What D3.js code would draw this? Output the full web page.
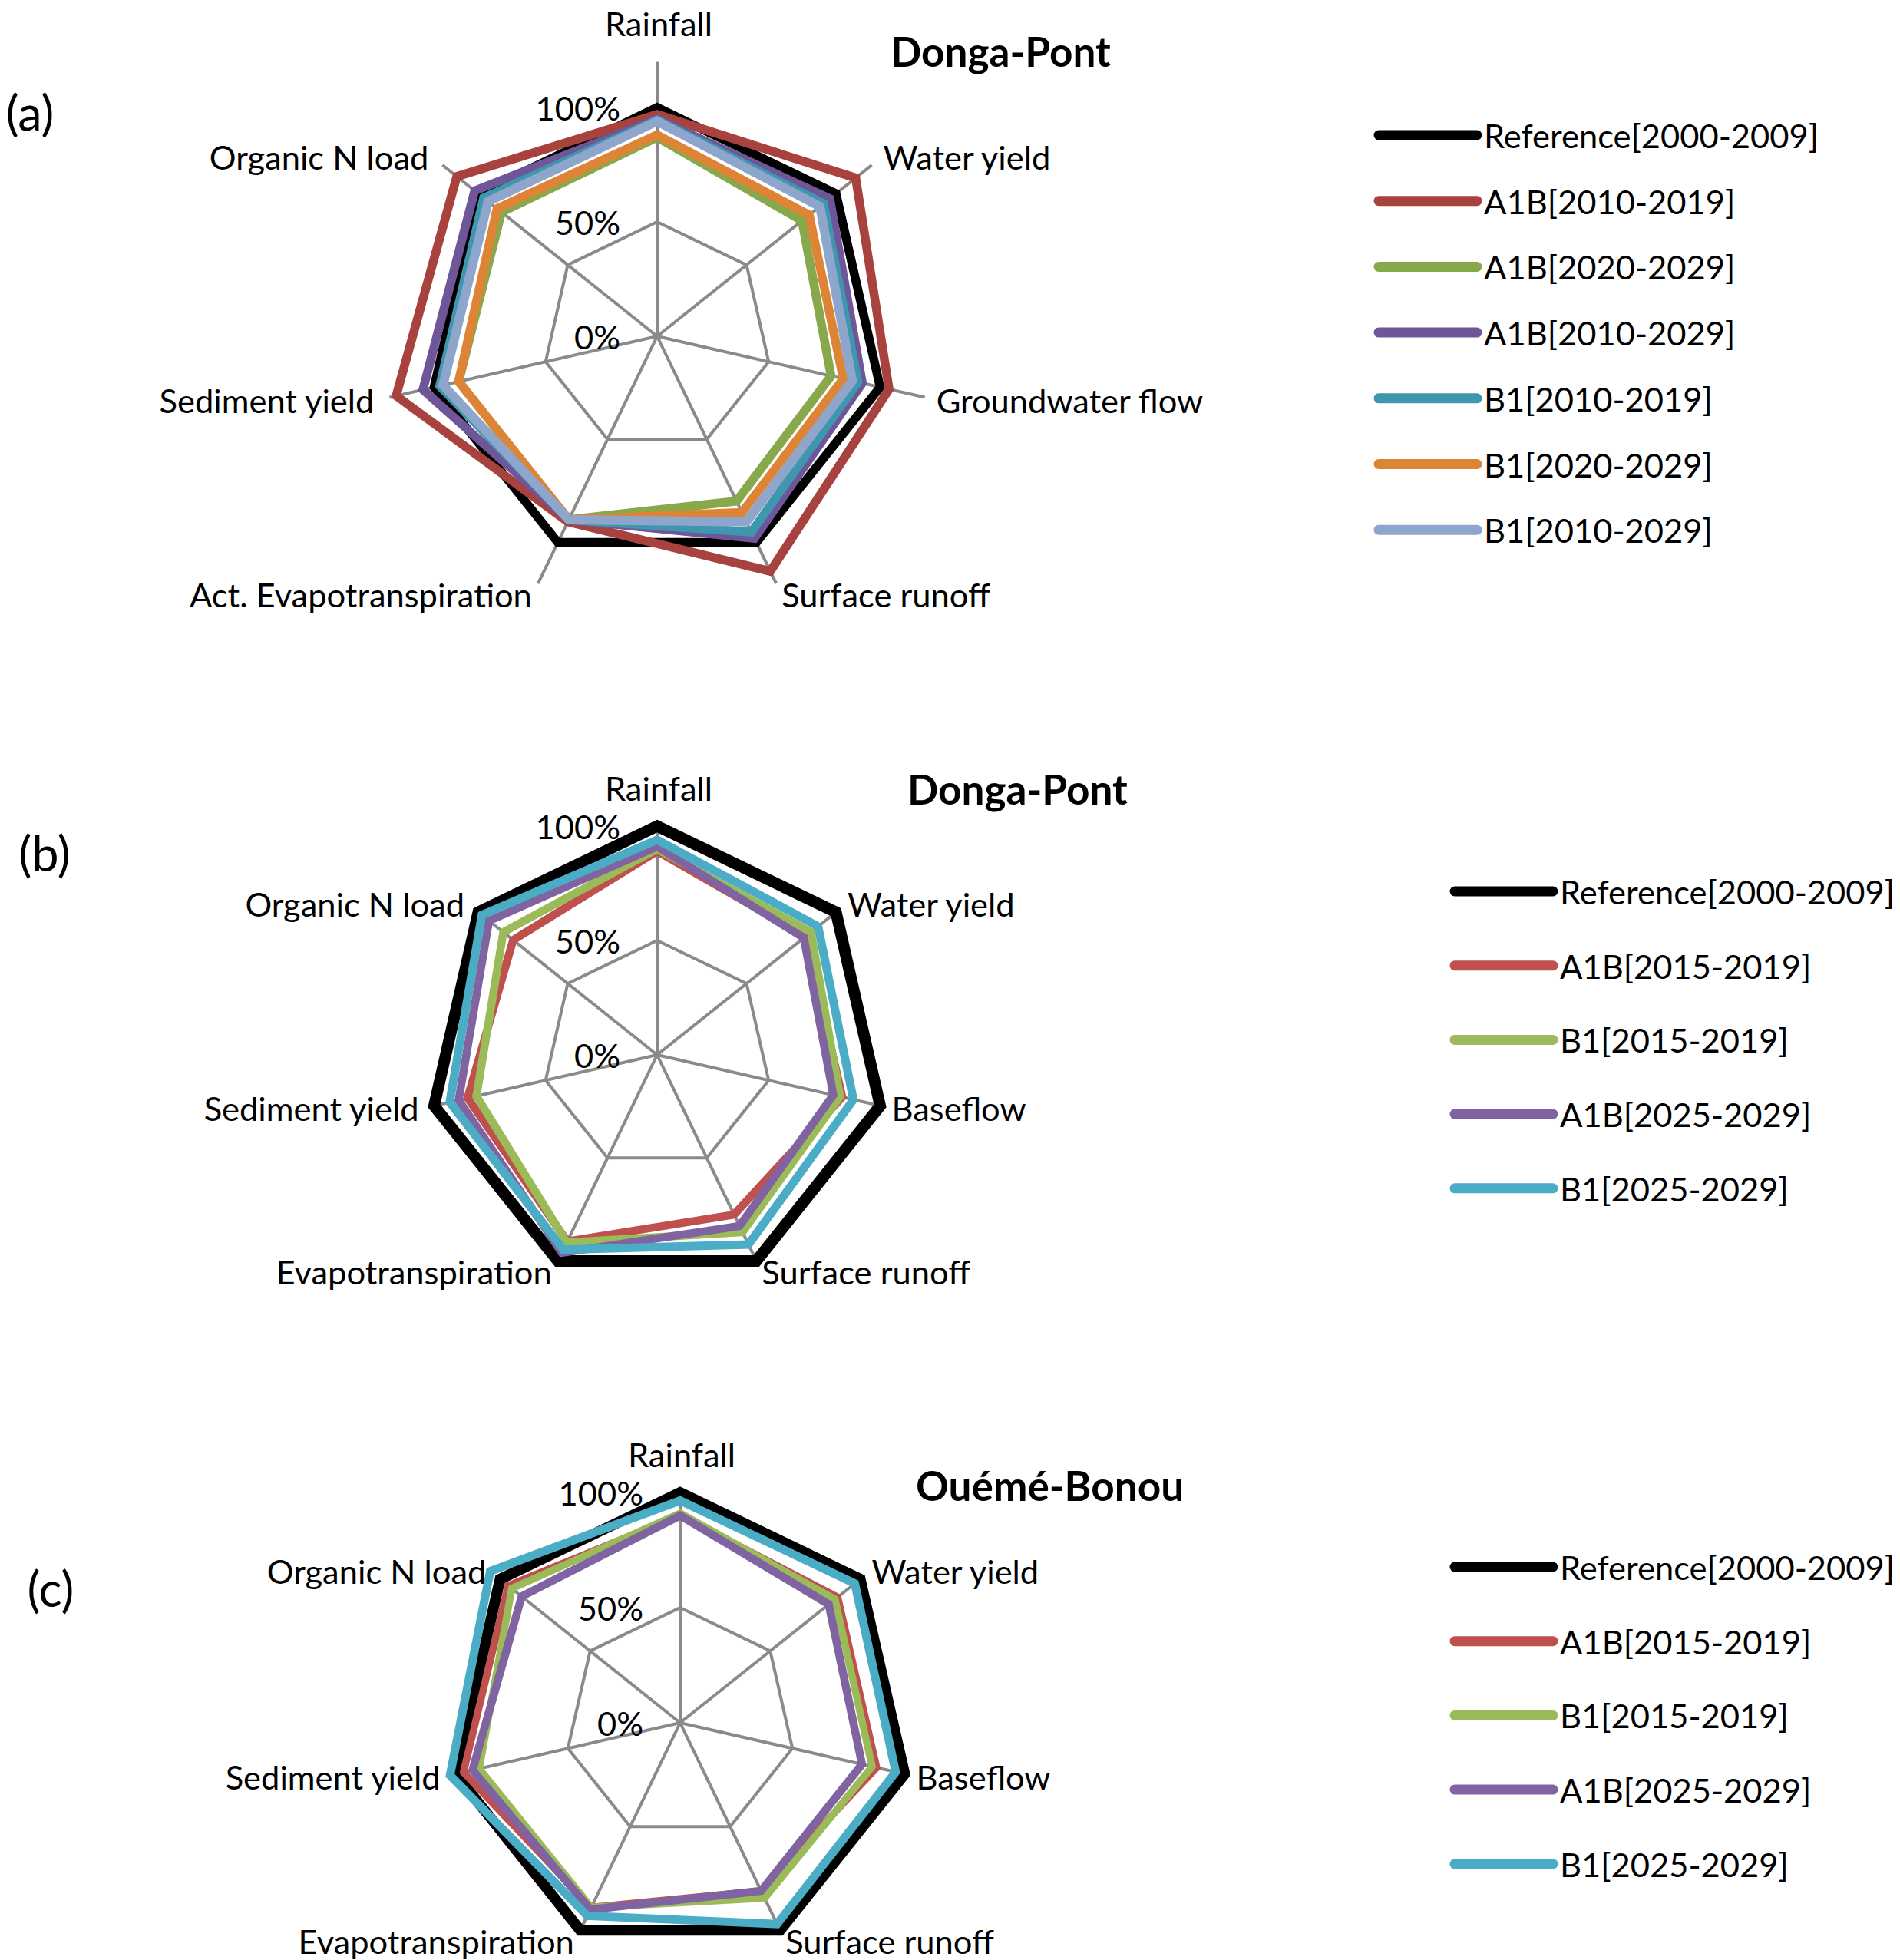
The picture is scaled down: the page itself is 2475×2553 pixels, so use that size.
<html>
<head>
  <script src="https://d3js.org/d3.v7.min.js"></script>
  <style>
    body { margin: 0; background: #fff; }
    text { font-family: Lato, "Open Sans", sans-serif; fill: #000; }
  </style>
</head>
<body>
  <div id="plot"></div>
  <script>

    var W = 2475, H = 2553;

    // ---- data (percent of the reference period) ----
    var axesA = ["Rainfall", "Water yield", "Groundwater flow", "Surface runoff",
                 "Act. Evapotranspiration", "Sediment yield", "Organic N load"];
    var namesA = ["Reference[2000-2009]", "A1B[2010-2019]", "A1B[2020-2029]", "A1B[2010-2029]",
                  "B1[2010-2019]", "B1[2020-2029]", "B1[2010-2029]"];
    var refA      = [100, 100, 100, 100, 100, 100, 100];
    var a1b1019A  = [97, 111, 104, 114, 90, 117, 112];
    var a1b2029A  = [87, 81, 78, 80, 89, 89, 87];
    var a1b1029A  = [95, 96.5, 92, 98, 89, 105, 102];
    var b11019A   = [94.5, 93, 90, 95, 89, 97.5, 97];
    var b12029A   = [88, 85, 83.5, 85.5, 89, 89, 89.5];
    var b11029A   = [94, 91, 87.5, 90, 89, 96, 94.5];

    var axesBC = ["Rainfall", "Water yield", "Baseflow", "Surface runoff",
                  "Evapotranspiration", "Sediment yield", "Organic N load"];
    var namesBC = ["Reference[2000-2009]", "A1B[2015-2019]", "B1[2015-2019]",
                   "A1B[2025-2029]", "B1[2025-2029]"];
    // (b) Donga-Pont
    var refB      = [100, 100, 100, 100, 100, 100, 100];
    var a1b1519B  = [89, 83, 83, 77.5, 90.5, 85, 80.5];
    var b11519B   = [90, 86, 82, 86, 91, 81, 86];
    var a1b2529B  = [91, 82, 79, 83, 96, 89, 94];
    var b12529B   = [94, 90, 88, 92, 94.5, 93, 98];
    // (c) Oueme-Bonou
    var refC      = [100, 100, 100, 100, 100, 100, 100];
    var a1b1519C  = [90, 87.5, 87.5, 81, 89, 96.5, 95.5];
    var b11519C   = [91, 86, 85.5, 84.5, 89, 89.5, 93.5];
    var a1b2529C  = [90, 82.5, 81, 81, 90, 92.5, 88];
    var b12529C   = [96.5, 97, 96, 97, 93, 102.5, 105.5];

    var tickValues = [0, 50, 100];
    var tickLabels = ["0%", "50%", "100%"];

    // ---- styles ----
    var colorsA = ["#000000", "#A8423F", "#88A84C", "#6F5699", "#3F97AF", "#DD8436", "#8EA5CC"];
    var colorsBC = ["#000000", "#C0504D", "#9BBB59", "#8064A2", "#4BACC6"];
    var gridColor = "#8a8a8a";

    var svg = d3.select("#plot").append("svg")
      .attr("width", W)
      .attr("height", H);
    svg.append("rect").attr("width", W).attr("height", H).attr("fill", "#fff");

    // font sizes fitted to the widths seen in the picture
    var probe = svg.append("text").style("font-size", "100px").text("Reference[2000-2009]");
    var fs = 100 * 436 / probe.node().getComputedTextLength();
    probe.style("font-weight", "bold").text("Donga-Pont");
    var fsTitle = 100 * 287 / probe.node().getComputedTextLength();
    probe.remove();

    function radar(cfg) {
      var n = cfg.axes.length;
      var g = svg.append("g").attr("transform", "translate(" + cfg.cx + "," + cfg.cy + ")");
      var r = d3.scaleLinear().domain([0, 100]).range([0, cfg.r100]);
      var angle = function(i) { return i * 2 * Math.PI / n; };
      var rEnd = r(cfg.max);

      var line = d3.lineRadial()
        .angle(function(d, i) { return angle(i); })
        .radius(function(d) { return r(d); })
        .curve(d3.curveLinearClosed);

      // rings
      g.selectAll(".ring").data(tickValues.filter(function(v) { return v > 0; }))
        .enter().append("path")
        .attr("d", function(v) { return line(d3.range(n).map(function() { return v; })); })
        .attr("fill", "none")
        .attr("stroke", gridColor)
        .attr("stroke-width", 4);

      // spokes
      g.selectAll(".spoke").data(cfg.axes)
        .enter().append("line")
        .attr("x1", 0).attr("y1", 0)
        .attr("x2", function(d, i) { return rEnd * Math.sin(angle(i)); })
        .attr("y2", function(d, i) { return -rEnd * Math.cos(angle(i)); })
        .attr("stroke", gridColor)
        .attr("stroke-width", 4);

      // series
      g.selectAll(".series").data(cfg.series)
        .enter().append("path")
        .attr("d", function(d) { return line(d); })
        .attr("fill", "none")
        .attr("stroke", function(d, i) { return cfg.colors[i]; })
        .attr("stroke-width", function(d, i) { return cfg.widths[i]; })
        .attr("stroke-linejoin", "miter");

      // value labels
      g.selectAll(".tick").data(tickValues)
        .enter().append("text")
        .attr("x", -48)
        .attr("y", function(v) { return -r(v); })
        .attr("text-anchor", "end")
        .attr("dominant-baseline", "central")
        .style("font-size", fs + "px")
        .text(function(v, i) { return tickLabels[i]; });

      // category labels
      g.selectAll(".cat").data(cfg.axes)
        .enter().append("text")
        .each(function(d, i) {
          var sx = Math.sin(angle(i)), sy = -Math.cos(angle(i));
          var ex = rEnd * sx, ey = rEnd * sy;
          var x, y, anchor;
          if (i === 0) { x = 2; y = ey - 50; anchor = "middle"; }
          else if (sy > 0.8) {
            anchor = sx > 0 ? "start" : "end";
            x = ex + (sx > 0 ? 7 : -8); y = ey + 14;
          } else {
            anchor = sx > 0 ? "start" : "end";
            var gap = sx > 0 ? 15 : (sy < -0.3 ? 18 : 20);
            x = ex + (sx > 0 ? gap : -gap);
            y = ey + (sy < -0.3 ? -11 : 3);
          }
          d3.select(this)
            .attr("x", x).attr("y", y)
            .attr("text-anchor", anchor)
            .attr("dominant-baseline", "central");
        })
        .style("font-size", fs + "px")
        .text(function(d) { return d; });

      // title and panel letter
      svg.append("text")
        .attr("x", cfg.titleX).attr("y", cfg.titleY)
        .attr("dominant-baseline", "central")
        .style("font-size", fsTitle + "px")
        .style("font-weight", "bold")
        .text(cfg.title);

      svg.append("text")
        .attr("x", cfg.letterX).attr("y", cfg.letterY)
        .attr("text-anchor", "middle")
        .attr("dominant-baseline", "central")
        .style("font-size", (fs * 1.45) + "px")
        .text(cfg.letter);

      // legend
      var lg = svg.append("g").attr("transform", "translate(" + cfg.legendX + "," + cfg.legendY + ")");
      var items = lg.selectAll(".item").data(cfg.names)
        .enter().append("g")
        .attr("transform", function(d, i) { return "translate(0," + (i * cfg.legendStep) + ")"; });
      items.append("line")
        .attr("x1", 0).attr("x2", 128)
        .attr("y1", 0).attr("y2", 0)
        .attr("stroke", function(d, i) { return cfg.colors[i]; })
        .attr("stroke-width", 13)
        .attr("stroke-linecap", "round");
      items.append("text")
        .attr("x", 137).attr("y", 0)
        .attr("dominant-baseline", "central")
        .style("font-size", fs + "px")
        .text(function(d) { return d; });
    }

    radar({
      cx: 856, cy: 438, r100: 298, max: 120,
      axes: axesA, names: namesA,
      series: [refA, a1b1019A, a1b2029A, a1b1029A, b11019A, b12029A, b11029A],
      colors: colorsA, widths: [11.5, 11.5, 11.5, 11.5, 11.5, 11.5, 12],
      title: "Donga-Pont", titleX: 1160, titleY: 66,
      letter: "(a)", letterX: 39, letterY: 145,
      legendX: 1796, legendY: 176, legendStep: 85.7
    });

    radar({
      cx: 856, cy: 1374, r100: 298, max: 100,
      axes: axesBC, names: namesBC,
      series: [refB, a1b1519B, b11519B, a1b2529B, b12529B],
      colors: colorsBC, widths: [15, 10.5, 10.5, 10.5, 11],
      title: "Donga-Pont", titleX: 1182, titleY: 1027,
      letter: "(b)", letterX: 58, letterY: 1110,
      legendX: 1895, legendY: 1161, legendStep: 96.7
    });

    radar({
      cx: 886, cy: 2244, r100: 300, max: 100,
      axes: axesBC, names: namesBC,
      series: [refC, a1b1519C, b11519C, a1b2529C, b12529C],
      colors: colorsBC, widths: [14, 9.5, 9.5, 10.5, 11],
      title: "Ouémé-Bonou", titleX: 1193, titleY: 1934,
      letter: "(c)", letterX: 66, letterY: 2068,
      legendX: 1895, legendY: 2041, legendStep: 96.7
    });

  </script>
</body>
</html>
